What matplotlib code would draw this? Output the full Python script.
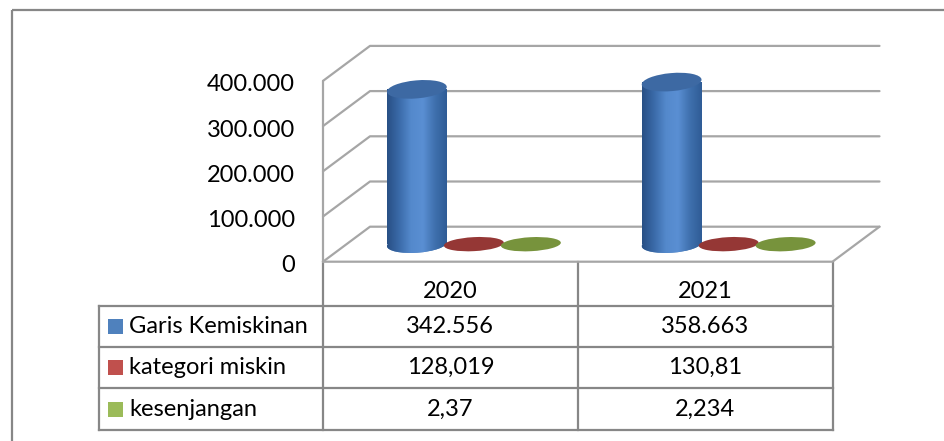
"""
Grafik silinder 3D + tabel data: Garis Kemiskinan, kategori miskin, kesenjangan (2020-2021).
"""
import numpy as np
import matplotlib.pyplot as plt
import matplotlib.transforms as mtransforms
from matplotlib.patches import Rectangle, Ellipse
from matplotlib.colors import LinearSegmentedColormap

# --- data ---
years = ['2020', '2021']
series = ['Garis Kemiskinan', 'kategori miskin', 'kesenjangan']
garis_kemiskinan = [342556, 358663]
kategori_miskin = [128.019, 130.81]
kesenjangan = [2.37, 2.234]
y_ticks = [0, 100000, 200000, 300000, 400000]

legend_colors = ['#4f81bd', '#c0504d', '#9bbb59']
top_colors = ['#3d69a3', '#953735', '#77933c']

plt.rcParams['font.family'] = ['Lato', 'DejaVu Sans']
FS = 17

W, H = 944, 441
fig = plt.figure(figsize=(W / 100, H / 100), dpi=100)

# background axes in pixel coordinates (frame + table)
bg = fig.add_axes([0, 0, 1, 1])
bg.set_xlim(0, W)
bg.set_ylim(H, 0)
bg.axis('off')

# plot axes: x in categories, y in values (front plane)
ax = fig.add_axes([0, 0, 1, 1], facecolor='none')
ax.axis('off')

X0, X1 = 323, 832.5          # front edge of the floor (pixels)
Y0 = 261.7                   # front floor line (pixels)
PPU = 45.2 / 100000          # pixels per value unit
DEPTH = (47, -35)            # depth offset in pixels

n = len(years)
cat_px = (X1 - X0) / n
ax.set_xlim(-X0 / cat_px, (W - X0) / cat_px)
ax.set_ylim((Y0 - H) / PPU, Y0 / PPU)
ax.set_autoscale_on(False)
dx = DEPTH[0] / cat_px
dy = -DEPTH[1] / PPU

# --- walls and floor ---
grid_kw = dict(color='#a6a6a6', lw=1.6, solid_capstyle='round', zorder=1)
for t in y_ticks:
    ax.plot([0, dx, n + dx], [t, t + dy, t + dy], **grid_kw)
ax.plot([0, 0], [0, y_ticks[-1]], **grid_kw)
ax.plot([0, n, n + dx], [0, 0, dy], **grid_kw)

# tick labels
lab_tr = mtransforms.offset_copy(ax.transData, fig, x=-28, y=-4, units='dots')
for t in y_ticks:
    ax.text(0, t, f'{t:,}'.replace(',', '.'), transform=lab_tr,
            ha='right', va='center', fontsize=FS, color='#000000')


# --- cylinders ---
def disc(x, y, w, h, angle, **kw):
    tr = fig.dpi_scale_trans + mtransforms.ScaledTranslation(x, y, ax.transData)
    e = Ellipse((0, 0), w / 100, h / 100, angle=angle, transform=tr, **kw)
    ax.add_patch(e)
    return e


cyl_cmap = LinearSegmentedColormap.from_list(
    'cyl', ['#284f84', '#3a6aa8', '#5489cc', '#5a8fd3', '#3f70ae', '#2f5c96'])
grad = np.linspace(0, 1, 256).reshape(1, -1)


def shade(patch, x_left, x_right, y_bot, y_top, z):
    im = ax.imshow(grad, cmap=cyl_cmap, extent=(x_left, x_right, y_bot, y_top),
                   aspect='auto', interpolation='bicubic', zorder=z)
    im.set_clip_path(patch)


mid_x, mid_y = dx / 2, dy / 2
spacing = 57 / cat_px
bar_w_px = 60
bar_w = bar_w_px / cat_px
values = [garis_kemiskinan, kategori_miskin, kesenjangan]

for i in range(n):
    for s, vals in enumerate(values):
        xc = i + 0.5 + mid_x + (s - 1) * spacing
        v = vals[i]
        z = 2 + s * 0.1
        if v * PPU > 3:
            bot = disc(xc, mid_y, bar_w_px, 17, 4, fc=legend_colors[s], ec='none', zorder=z)
            shade(bot, xc - bar_w / 2, xc + bar_w / 2,
                  mid_y - 12 / PPU, mid_y + 12 / PPU, z + 0.01)
            body = ax.bar(xc, v, bottom=mid_y, width=bar_w, color='none',
                          edgecolor='none', zorder=z + 0.02)[0]
            shade(body, xc - bar_w / 2, xc + bar_w / 2, mid_y, mid_y + v, z + 0.03)
            disc(xc, mid_y + v, bar_w_px, 18, 5, fc=top_colors[s], ec='none', zorder=z + 0.04)
        else:
            disc(xc, mid_y + v, bar_w_px, 14, 3, fc=top_colors[s], ec='none', zorder=z)

# --- data table ---
table_left = 98.7
row_edges = [262, 306, 347, 388, 430]
col_edges = [X0 + k * cat_px for k in range(n + 1)]
line_kw = dict(color='#878787', lw=1.6, solid_capstyle='projecting')
for x in col_edges:
    bg.plot([x, x], [row_edges[0], row_edges[-1]], **line_kw)
bg.plot([table_left, table_left], [row_edges[1], row_edges[-1]], **line_kw)
for y in row_edges[1:]:
    bg.plot([table_left, X1], [y, y], **line_kw)

for i, yr in enumerate(years):
    bg.text(X0 + (i + 0.5) * cat_px, 292, yr, ha='center', va='center', fontsize=FS)


def fmt_thousands(v):
    return f'{v:,.0f}'.replace(',', '.')


def fmt_decimal(v):
    return f'{v:g}'.replace('.', ',')


row_text = [[fmt_thousands(v) for v in garis_kemiskinan],
            [fmt_decimal(v) for v in kategori_miskin],
            [fmt_decimal(v) for v in kesenjangan]]

for r, name in enumerate(series):
    yc = (row_edges[r + 1] + row_edges[r + 2]) / 2
    bg.add_patch(Rectangle((108, yc - 7.5), 15, 15, fc=legend_colors[r], ec='none'))
    bg.text(129, yc, name, ha='left', va='center', fontsize=FS)
    for i in range(n):
        bg.text(X0 + (i + 0.5) * cat_px, yc, row_text[r][i], ha='center', va='center', fontsize=FS)

# chart frame
bg.add_patch(Rectangle((11.5, 9.5), 960, 460, fill=False, ec='#878787', lw=1.6))

fig.savefig('out.png', dpi=100)
